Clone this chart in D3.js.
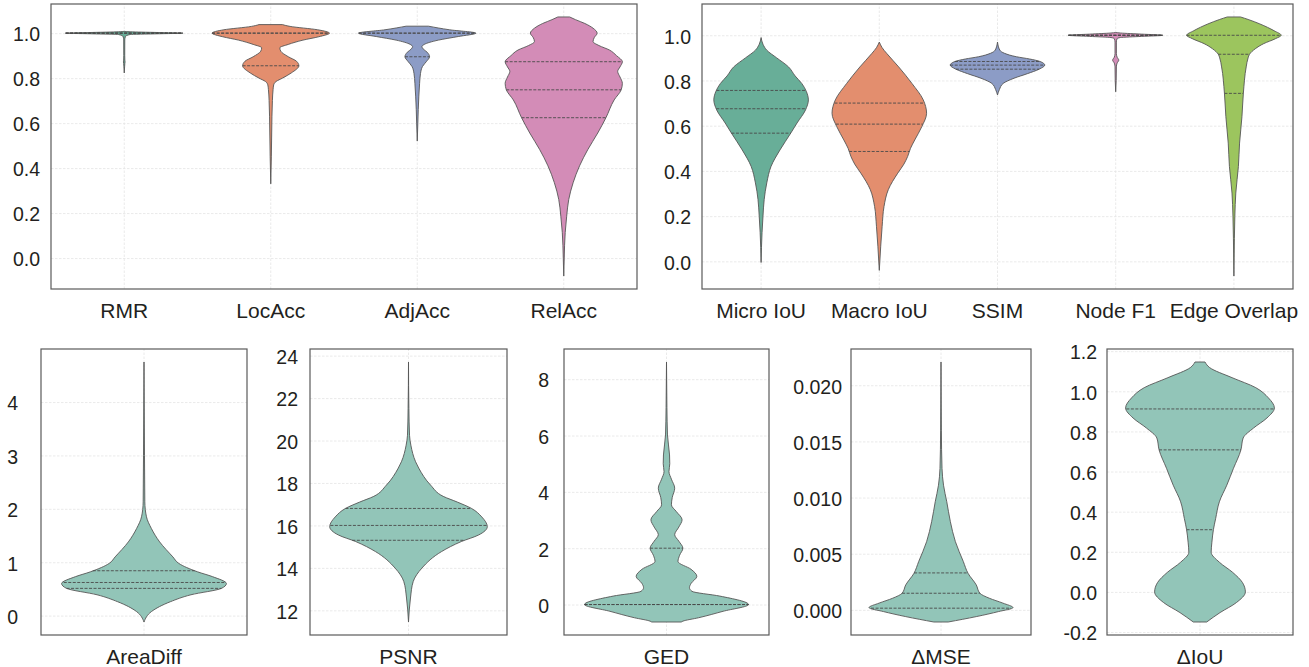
<!DOCTYPE html>
<html>
<head>
<meta charset="utf-8">
<script src="https://cdn.jsdelivr.net/npm/d3@7"></script>
<style>
  body { margin: 0; background: #fff; }
  svg { display: block; font-family: "Liberation Sans", Arial, sans-serif; }
</style>
</head>
<body>
<div id="chart"></div>
<script>
// density profiles: [value, relative width (1 = widest)]
const rmrDensity = [[0.823,0],[0.85,0.006],[0.865,0.01],[0.872,0.014],[0.88,0.01],[0.9,0.008],[0.97,0.009],[0.985,0.02],[0.994,0.1],[0.997,0.55],[1.0,1.0],[1.003,0.55],[1.006,0.1],[1.008,0]];
const locAccDensity = [[0.33,0],[0.45,0.01],[0.556,0.016],[0.70,0.028],[0.75,0.04],[0.77,0.05],[0.785,0.09],[0.80,0.2],[0.823,0.35],[0.855,0.48],[0.875,0.44],[0.895,0.3],[0.92,0.17],[0.935,0.155],[0.95,0.3],[0.969,0.55],[0.984,0.82],[1.0,1.0],[1.015,0.8],[1.03,0.33],[1.038,0.2]];
const adjAccDensity = [[0.52,0],[0.6,0.01],[0.66,0.017],[0.72,0.027],[0.777,0.04],[0.82,0.055],[0.852,0.09],[0.875,0.16],[0.895,0.21],[0.915,0.17],[0.93,0.1],[0.94,0.08],[0.95,0.12],[0.969,0.36],[0.985,0.7],[1.0,1.0],[1.015,0.55],[1.031,0.19]];
const relAccDensity = [[-0.08,0],[0.0,0.008],[0.114,0.025],[0.186,0.05],[0.26,0.085],[0.335,0.16],[0.41,0.27],[0.482,0.41],[0.556,0.58],[0.624,0.72],[0.703,0.86],[0.748,0.98],[0.777,1.0],[0.805,0.96],[0.83,0.92],[0.85,0.96],[0.873,1.0],[0.9,0.9],[0.925,0.78],[0.945,0.6],[0.962,0.5],[0.98,0.52],[1.0,0.57],[1.022,0.5],[1.043,0.36],[1.06,0.2],[1.072,0.1]];

const microIouDensity = [[-0.005,0],[0.127,0.02],[0.2,0.04],[0.273,0.065],[0.347,0.12],[0.42,0.21],[0.493,0.4],[0.568,0.63],[0.612,0.76],[0.67,0.94],[0.714,1.0],[0.75,0.96],[0.787,0.86],[0.82,0.72],[0.86,0.58],[0.9,0.33],[0.934,0.12],[0.96,0.04],[0.99,0]];
const macroIouDensity = [[-0.04,0],[0.067,0.03],[0.155,0.06],[0.243,0.1],[0.317,0.19],[0.39,0.39],[0.43,0.52],[0.464,0.6],[0.5,0.66],[0.537,0.75],[0.596,0.9],[0.655,1.0],[0.714,0.93],[0.787,0.69],[0.86,0.41],[0.919,0.16],[0.945,0.06],[0.97,0]];
const ssimDensity = [[0.736,0],[0.76,0.04],[0.787,0.12],[0.81,0.35],[0.83,0.63],[0.85,0.88],[0.868,1.0],[0.884,0.9],[0.895,0.68],[0.905,0.4],[0.92,0.15],[0.934,0.05],[0.97,0]];
const nodeF1Density = [[0.75,0],[0.8,0.01],[0.86,0.014],[0.877,0.03],[0.89,0.065],[0.903,0.03],[0.92,0.014],[0.97,0.014],[0.985,0.03],[0.99,0.1],[0.995,0.55],[1.0,1.0],[1.005,0.55],[1.01,0.1],[1.012,0]];
const edgeOverlapDensity = [[-0.065,0],[0.1,0.01],[0.2,0.02],[0.302,0.04],[0.42,0.095],[0.523,0.12],[0.64,0.17],[0.743,0.2],[0.86,0.26],[0.9,0.3],[0.916,0.33],[0.94,0.45],[0.963,0.63],[0.985,0.88],[1.0,1.0],[1.02,0.85],[1.05,0.55],[1.07,0.3],[1.081,0.14]];

const areaDiffDensity = [[-0.12,0],[0.075,0.09],[0.26,0.32],[0.39,0.57],[0.51,0.94],[0.6,1.0],[0.73,0.83],[0.82,0.65],[0.98,0.42],[1.1,0.35],[1.38,0.19],[1.63,0.09],[1.85,0.03],[2.13,0.01],[3.0,0.006],[4.75,0]];
const psnrDensity = [[11.45,0],[12.58,0.025],[13.36,0.06],[13.99,0.17],[14.77,0.42],[15.24,0.67],[15.55,0.89],[15.94,1.0],[16.4,0.93],[16.8,0.8],[17.1,0.62],[17.37,0.44],[17.9,0.28],[18.7,0.13],[19.0,0.09],[19.78,0.03],[20.25,0.013],[21.5,0.005],[23.7,0]];
const gedDensity = [[-0.62,0.18],[-0.59,0.2],[-0.47,0.39],[-0.24,0.69],[0.0,1.0],[0.3,0.65],[0.47,0.31],[0.6,0.28],[0.75,0.3],[1.0,0.37],[1.25,0.3],[1.53,0.14],[1.75,0.16],[2.0,0.2],[2.25,0.15],[2.48,0.1],[2.75,0.15],[3.01,0.19],[3.3,0.12],[3.54,0.06],[3.8,0.07],[4.13,0.1],[4.45,0.06],[4.72,0.03],[5.0,0.04],[5.31,0.037],[6.02,0.012],[7.0,0.005],[8.61,0]];
const dMseDensity = [[-0.00108,0.1],[-0.0006,0.49],[-0.00015,0.8],[0.0002,1.0],[0.0006,0.86],[0.00104,0.67],[0.00148,0.54],[0.00222,0.49],[0.00326,0.375],[0.0043,0.31],[0.00607,0.2],[0.00785,0.13],[0.00963,0.08],[0.0111,0.035],[0.0126,0.014],[0.016,0.005],[0.02207,0]];
const dIouDensity = [[-0.15,0.09],[-0.103,0.27],[-0.053,0.49],[0.0,0.61],[0.047,0.57],[0.097,0.44],[0.148,0.26],[0.198,0.15],[0.248,0.16],[0.31,0.18],[0.365,0.21],[0.449,0.26],[0.532,0.36],[0.616,0.45],[0.708,0.55],[0.767,0.58],[0.817,0.72],[0.867,0.9],[0.917,1.0],[0.967,0.92],[1.018,0.75],[1.068,0.43],[1.118,0.13],[1.146,0.067]];

// quartiles [Q1, median, Q3]
const topLeftNames = ["RMR", "LocAcc", "AdjAcc", "RelAcc"];
const topLeftQuartiles = [[1.0, 1.0, 1.0], [0.855, 1.0, 1.0], [0.895, 1.0, 1.0], [0.624, 0.748, 0.873]];
const topRightNames = ["Micro IoU", "Macro IoU", "SSIM", "Node F1", "Edge Overlap"];
const topRightQuartiles = [[0.567, 0.675, 0.756], [0.486, 0.607, 0.7], [0.85, 0.868, 0.884], [1.0, 1.0, 1.0], [0.743, 0.916, 1.0]];
const bottomNames = ["AreaDiff", "PSNR", "GED", "ΔMSE", "ΔIoU"];
const bottomQuartiles = [[0.51, 0.62, 0.84], [15.3, 16.0, 16.8], [0.0, 0.0, 2.0], [0.00015, 0.00148, 0.00329], [0.31, 0.708, 0.912]];

// tick labels
const unitTicks = [0, 0.2, 0.4, 0.6, 0.8, 1.0];
const areaDiffTicks = [0, 1, 2, 3, 4];
const psnrTicks = [12, 14, 16, 18, 20, 22, 24];
const gedTicks = [0, 2, 4, 6, 8];
const dMseTicks = [0, 0.005, 0.01, 0.015, 0.02];
const dIouTicks = [-0.2, 0, 0.2, 0.4, 0.6, 0.8, 1.0, 1.2];

const set2 = ["#68ae98", "#e38e6e", "#8c9cc6", "#d38cb7", "#9cc55e"];
const lightTeal = "#92c5b8";
const textColor = "#231f20";
const gridColor = "#e4e4e4";
const width = 1309, height = 667;

const fmt = s => (d => d3.format(s)(d).replace("\u2212", "-"));

const panels = [
  {names: topLeftNames, profiles: [rmrDensity, locAccDensity, adjAccDensity, relAccDensity],
   quartiles: topLeftQuartiles, colors: set2.slice(0, 4), ticks: unitTicks, format: fmt(".1f"),
   box: [51, 4, 637, 289], pad: 11},
  {names: topRightNames, profiles: [microIouDensity, macroIouDensity, ssimDensity, nodeF1Density, edgeOverlapDensity],
   quartiles: topRightQuartiles, colors: set2, ticks: unitTicks, format: fmt(".1f"),
   box: [702, 4, 1293, 289], pad: 11},
  {names: [bottomNames[0]], profiles: [areaDiffDensity], quartiles: [bottomQuartiles[0]], colors: [lightTeal],
   ticks: areaDiffTicks, format: fmt("d"), box: [41, 349, 247, 635], pad: 23},
  {names: [bottomNames[1]], profiles: [psnrDensity], quartiles: [bottomQuartiles[1]], colors: [lightTeal],
   ticks: psnrTicks, format: fmt("d"), box: [310, 349, 507, 635], pad: 12},
  {names: [bottomNames[2]], profiles: [gedDensity], quartiles: [bottomQuartiles[2]], colors: [lightTeal],
   ticks: gedTicks, format: fmt("d"), box: [564, 349, 769, 635], pad: 15},
  {names: [bottomNames[3]], profiles: [dMseDensity], quartiles: [bottomQuartiles[3]], colors: [lightTeal],
   ticks: dMseTicks, format: fmt(".3f"), box: [851, 349, 1031, 635], pad: 9},
  {names: [bottomNames[4]], profiles: [dIouDensity], quartiles: [bottomQuartiles[4]], colors: [lightTeal],
   ticks: dIouTicks, format: fmt(".1f"), box: [1107, 349, 1293, 635], pad: 10}
];

const svg = d3.select("#chart").append("svg")
  .attr("width", width)
  .attr("height", height)
  .attr("viewBox", [0, 0, width, height]);

function drawPanel(p) {
  const [left, top, right, bottom] = p.box;
  const g = svg.append("g");

  const x = d3.scaleBand().domain(p.names).range([left, right]);
  // matplotlib-style 5% margin around the data extent
  const [lo, hi] = d3.extent(p.profiles.flat(), d => d[0]);
  const m = (hi - lo) * 0.05;
  const y = d3.scaleLinear().domain([lo - m, hi + m]).range([bottom, top]);

  const styleGrid = a => {
    a.select(".domain").remove();
    a.selectAll(".tick line")
      .attr("stroke", gridColor)
      .attr("stroke-width", 0.8)
      .attr("stroke-dasharray", "2.5,1.5");
    a.selectAll(".tick text").attr("fill", textColor);
    a.attr("font-family", null);
  };

  g.append("g")
    .attr("transform", `translate(${left},0)`)
    .call(d3.axisLeft(y).tickValues(p.ticks).tickFormat(p.format)
      .tickSize(-(right - left)).tickPadding(p.pad))
    .call(styleGrid)
    .call(a => a.selectAll(".tick text").attr("dy", "0.4em"))
    .attr("font-size", 19.5);

  g.append("g")
    .attr("transform", `translate(0,${bottom})`)
    .call(d3.axisBottom(x).tickSize(-(bottom - top)).tickPadding(14))
    .call(styleGrid)
    .attr("font-size", 21);

  const area = d3.area().curve(d3.curveMonotoneY).y(d => y(d[0]));
  const hw = x.bandwidth() * 0.4;

  p.names.forEach((name, i) => {
    const cx = x(name) + x.bandwidth() / 2;
    const prof = p.profiles[i];
    g.append("path")
      .datum(prof)
      .attr("d", area.x0(d => cx - d[1] * hw).x1(d => cx + d[1] * hw))
      .attr("fill", p.colors[i])
      .attr("stroke", "#565656")
      .attr("stroke-width", 0.9)
      .attr("stroke-linejoin", "round");

    const widthAt = d3.scaleLinear().domain(prof.map(d => d[0])).range(prof.map(d => d[1])).clamp(true);
    g.append("g")
      .selectAll("line")
      .data(p.quartiles[i])
      .join("line")
      .attr("x1", q => cx - widthAt(q) * hw)
      .attr("x2", q => cx + widthAt(q) * hw)
      .attr("y1", q => y(q))
      .attr("y2", q => y(q))
      .attr("stroke", "#4a4a4a")
      .attr("stroke-width", 0.9)
      .attr("stroke-dasharray", "3,1.5");
  });

  g.append("rect")
    .attr("x", left)
    .attr("y", top)
    .attr("width", right - left)
    .attr("height", bottom - top)
    .attr("fill", "none")
    .attr("stroke", "#5a5a5a")
    .attr("stroke-width", 1.2);
}

panels.forEach(drawPanel);
</script>
</body>
</html>
